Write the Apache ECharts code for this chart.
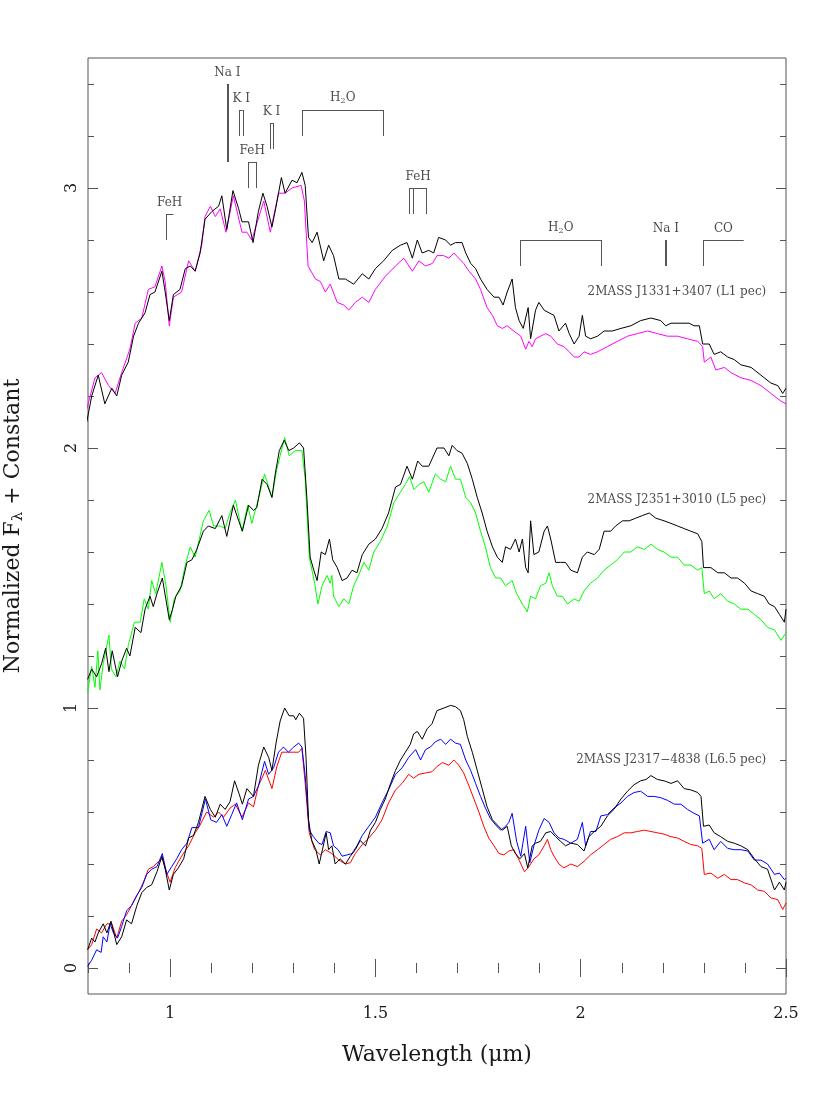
<!DOCTYPE html>
<html>
<head>
<meta charset="utf-8">
<script src="https://cdn.jsdelivr.net/npm/echarts@6.0.0/dist/echarts.min.js"></script>
<style>
  html, body { margin: 0; padding: 0; background: #fff; }
  #chart { width: 830px; height: 1106px; }
</style>
</head>
<body>
<div id="chart"></div>
<script>
// spectra: [wavelength (um), normalized flux + offset]
const j1331 = [[0.797,2.10],[0.809,2.20],[0.825,2.28],[0.841,2.17],[0.858,2.23],[0.870,2.20],[0.882,2.28],[0.898,2.33],[0.911,2.43],[0.923,2.48],[0.939,2.52],[0.951,2.59],[0.963,2.60],[0.980,2.68],[0.988,2.60],[0.998,2.49],[1.008,2.59],[1.024,2.61],[1.037,2.69],[1.049,2.70],[1.061,2.68],[1.073,2.75],[1.085,2.88],[1.102,2.91],[1.118,2.93],[1.126,2.97],[1.138,2.84],[1.153,2.99],[1.167,2.92],[1.175,2.87],[1.191,2.87],[1.202,2.79],[1.215,2.91],[1.226,2.98],[1.236,2.93],[1.248,2.85],[1.257,2.92],[1.271,3.04],[1.280,2.98],[1.297,3.03],[1.309,3.02],[1.321,3.06],[1.329,3.01],[1.337,2.81],[1.346,2.79],[1.358,2.83],[1.374,2.72],[1.386,2.78],[1.398,2.74],[1.411,2.65],[1.427,2.65],[1.447,2.63],[1.468,2.67],[1.484,2.65],[1.500,2.69],[1.520,2.72],[1.541,2.76],[1.561,2.78],[1.577,2.79],[1.590,2.73],[1.602,2.80],[1.614,2.75],[1.630,2.76],[1.642,2.75],[1.654,2.81],[1.671,2.80],[1.683,2.78],[1.695,2.79],[1.711,2.79],[1.720,2.75],[1.732,2.71],[1.744,2.69],[1.756,2.65],[1.772,2.61],[1.789,2.58],[1.801,2.58],[1.811,2.55],[1.821,2.60],[1.833,2.65],[1.841,2.54],[1.850,2.49],[1.860,2.46],[1.872,2.54],[1.878,2.42],[1.890,2.53],[1.898,2.56],[1.911,2.53],[1.923,2.52],[1.935,2.51],[1.947,2.45],[1.963,2.48],[1.972,2.44],[1.984,2.40],[1.996,2.43],[2.004,2.51],[2.012,2.43],[2.024,2.42],[2.041,2.43],[2.057,2.45],[2.077,2.45],[2.098,2.46],[2.122,2.47],[2.146,2.49],[2.171,2.50],[2.195,2.49],[2.207,2.47],[2.220,2.48],[2.244,2.48],[2.264,2.48],[2.276,2.47],[2.289,2.47],[2.297,2.40],[2.313,2.40],[2.325,2.36],[2.341,2.37],[2.358,2.35],[2.374,2.34],[2.390,2.32],[2.415,2.31],[2.439,2.28],[2.463,2.25],[2.480,2.24],[2.492,2.21],[2.500,2.23]];
const j1331Std = [[0.797,2.15],[0.817,2.27],[0.833,2.29],[0.850,2.24],[0.866,2.21],[0.882,2.29],[0.902,2.38],[0.915,2.48],[0.931,2.50],[0.947,2.61],[0.963,2.62],[0.980,2.70],[0.988,2.64],[0.998,2.47],[1.008,2.58],[1.028,2.60],[1.045,2.72],[1.061,2.68],[1.077,2.78],[1.085,2.89],[1.098,2.93],[1.110,2.89],[1.122,2.92],[1.136,2.83],[1.154,2.97],[1.175,2.83],[1.187,2.83],[1.199,2.80],[1.228,2.95],[1.244,2.83],[1.264,2.98],[1.280,2.98],[1.297,3.00],[1.319,3.01],[1.327,2.95],[1.336,2.70],[1.354,2.65],[1.366,2.64],[1.378,2.60],[1.390,2.63],[1.407,2.56],[1.423,2.55],[1.435,2.53],[1.451,2.56],[1.468,2.58],[1.484,2.56],[1.500,2.61],[1.524,2.66],[1.549,2.70],[1.569,2.73],[1.590,2.68],[1.606,2.72],[1.622,2.70],[1.639,2.71],[1.650,2.74],[1.666,2.74],[1.679,2.73],[1.691,2.75],[1.703,2.73],[1.715,2.71],[1.728,2.68],[1.744,2.65],[1.756,2.61],[1.772,2.54],[1.785,2.51],[1.797,2.47],[1.809,2.46],[1.821,2.47],[1.837,2.45],[1.854,2.43],[1.866,2.38],[1.874,2.41],[1.882,2.39],[1.890,2.42],[1.902,2.43],[1.915,2.44],[1.927,2.43],[1.943,2.40],[1.959,2.39],[1.972,2.37],[1.984,2.35],[1.996,2.35],[2.008,2.37],[2.024,2.36],[2.041,2.37],[2.065,2.39],[2.089,2.41],[2.114,2.43],[2.138,2.44],[2.163,2.45],[2.187,2.44],[2.211,2.43],[2.236,2.43],[2.260,2.42],[2.285,2.41],[2.297,2.39],[2.301,2.33],[2.317,2.35],[2.329,2.30],[2.350,2.31],[2.366,2.29],[2.390,2.27],[2.415,2.26],[2.439,2.24],[2.463,2.21],[2.488,2.18],[2.500,2.17]];

const j2351 = [[0.799,1.11],[0.809,1.15],[0.821,1.12],[0.833,1.17],[0.843,1.23],[0.851,1.14],[0.859,1.22],[0.872,1.12],[0.882,1.18],[0.894,1.23],[0.902,1.20],[0.915,1.31],[0.929,1.29],[0.939,1.38],[0.951,1.43],[0.959,1.39],[0.968,1.44],[0.981,1.50],[0.998,1.34],[1.006,1.38],[1.014,1.43],[1.028,1.47],[1.041,1.56],[1.053,1.57],[1.065,1.61],[1.081,1.68],[1.093,1.70],[1.110,1.69],[1.126,1.74],[1.138,1.66],[1.154,1.78],[1.167,1.72],[1.176,1.68],[1.191,1.78],[1.203,1.76],[1.211,1.77],[1.224,1.88],[1.236,1.86],[1.248,1.81],[1.256,1.90],[1.266,1.99],[1.278,2.03],[1.289,1.99],[1.301,2.00],[1.315,2.02],[1.325,2.00],[1.333,1.81],[1.341,1.58],[1.350,1.53],[1.358,1.49],[1.368,1.60],[1.378,1.59],[1.388,1.65],[1.396,1.57],[1.407,1.54],[1.419,1.49],[1.431,1.50],[1.443,1.53],[1.455,1.52],[1.468,1.59],[1.484,1.63],[1.500,1.65],[1.516,1.69],[1.532,1.75],[1.549,1.85],[1.561,1.86],[1.577,1.93],[1.590,1.88],[1.603,1.95],[1.614,1.93],[1.630,1.93],[1.650,2.00],[1.667,2.00],[1.679,1.97],[1.687,2.01],[1.699,1.99],[1.711,1.98],[1.724,1.94],[1.736,1.88],[1.748,1.81],[1.760,1.75],[1.772,1.68],[1.785,1.62],[1.797,1.58],[1.809,1.56],[1.817,1.62],[1.829,1.61],[1.841,1.65],[1.850,1.60],[1.858,1.65],[1.866,1.54],[1.872,1.52],[1.878,1.72],[1.886,1.59],[1.898,1.60],[1.911,1.68],[1.919,1.70],[1.927,1.65],[1.939,1.56],[1.951,1.56],[1.963,1.56],[1.976,1.53],[1.992,1.52],[2.004,1.58],[2.016,1.60],[2.033,1.59],[2.045,1.61],[2.057,1.68],[2.073,1.68],[2.085,1.70],[2.102,1.72],[2.118,1.72],[2.134,1.73],[2.150,1.74],[2.167,1.75],[2.183,1.73],[2.203,1.72],[2.220,1.71],[2.236,1.70],[2.252,1.69],[2.268,1.68],[2.285,1.67],[2.295,1.64],[2.299,1.54],[2.317,1.54],[2.334,1.52],[2.350,1.52],[2.366,1.50],[2.382,1.50],[2.399,1.48],[2.415,1.45],[2.431,1.44],[2.447,1.43],[2.459,1.40],[2.472,1.39],[2.484,1.36],[2.496,1.33],[2.500,1.38]];
const j2351Std = [[0.799,1.06],[0.809,1.16],[0.817,1.08],[0.824,1.22],[0.829,1.07],[0.837,1.17],[0.851,1.28],[0.857,1.15],[0.868,1.12],[0.878,1.18],[0.889,1.15],[0.898,1.24],[0.913,1.33],[0.927,1.33],[0.937,1.42],[0.947,1.38],[0.955,1.49],[0.965,1.44],[0.980,1.56],[0.990,1.47],[1.000,1.33],[1.010,1.42],[1.024,1.45],[1.037,1.55],[1.049,1.62],[1.061,1.58],[1.081,1.72],[1.095,1.76],[1.106,1.70],[1.122,1.70],[1.134,1.69],[1.146,1.75],[1.159,1.80],[1.175,1.68],[1.189,1.78],[1.199,1.71],[1.216,1.81],[1.230,1.90],[1.248,1.81],[1.260,1.92],[1.268,1.97],[1.279,2.04],[1.290,1.97],[1.305,1.99],[1.321,1.99],[1.329,1.88],[1.339,1.58],[1.352,1.48],[1.360,1.40],[1.370,1.47],[1.382,1.51],[1.390,1.48],[1.394,1.51],[1.398,1.43],[1.411,1.39],[1.423,1.42],[1.435,1.40],[1.447,1.47],[1.459,1.51],[1.472,1.56],[1.484,1.53],[1.496,1.60],[1.512,1.64],[1.529,1.70],[1.545,1.79],[1.561,1.83],[1.573,1.86],[1.583,1.89],[1.594,1.84],[1.606,1.86],[1.618,1.87],[1.630,1.83],[1.646,1.90],[1.659,1.88],[1.671,1.87],[1.683,1.93],[1.695,1.88],[1.707,1.88],[1.720,1.81],[1.732,1.79],[1.744,1.75],[1.756,1.68],[1.768,1.62],[1.780,1.54],[1.793,1.50],[1.805,1.50],[1.817,1.47],[1.833,1.49],[1.844,1.44],[1.858,1.40],[1.870,1.37],[1.878,1.43],[1.890,1.42],[1.902,1.47],[1.915,1.48],[1.923,1.52],[1.931,1.47],[1.943,1.43],[1.955,1.43],[1.968,1.40],[1.984,1.42],[1.996,1.41],[2.008,1.45],[2.024,1.48],[2.041,1.50],[2.057,1.53],[2.073,1.55],[2.089,1.57],[2.106,1.60],[2.122,1.60],[2.138,1.62],[2.155,1.61],[2.171,1.63],[2.187,1.61],[2.203,1.60],[2.220,1.58],[2.236,1.58],[2.252,1.55],[2.268,1.55],[2.285,1.53],[2.295,1.54],[2.301,1.44],[2.313,1.45],[2.325,1.42],[2.341,1.44],[2.358,1.41],[2.374,1.40],[2.390,1.38],[2.407,1.38],[2.423,1.36],[2.439,1.34],[2.455,1.31],[2.472,1.30],[2.488,1.26],[2.500,1.29]];

const j2317 = [[0.799,0.07],[0.809,0.115],[0.817,0.10],[0.825,0.135],[0.837,0.17],[0.846,0.135],[0.856,0.18],[0.870,0.09],[0.882,0.12],[0.894,0.185],[0.906,0.17],[0.919,0.24],[0.931,0.29],[0.943,0.31],[0.955,0.32],[0.968,0.37],[0.980,0.43],[0.988,0.38],[0.998,0.30],[1.008,0.36],[1.020,0.385],[1.033,0.42],[1.045,0.50],[1.057,0.51],[1.069,0.56],[1.085,0.66],[1.098,0.61],[1.110,0.58],[1.122,0.63],[1.134,0.61],[1.146,0.64],[1.157,0.72],[1.168,0.67],[1.176,0.63],[1.187,0.69],[1.203,0.66],[1.215,0.78],[1.228,0.85],[1.240,0.81],[1.248,0.76],[1.258,0.865],[1.268,0.95],[1.279,1.00],[1.290,0.97],[1.301,0.97],[1.306,0.955],[1.315,0.98],[1.325,0.96],[1.331,0.81],[1.337,0.57],[1.345,0.49],[1.355,0.455],[1.363,0.40],[1.371,0.455],[1.380,0.52],[1.386,0.455],[1.394,0.47],[1.402,0.40],[1.414,0.42],[1.427,0.40],[1.439,0.43],[1.451,0.455],[1.463,0.49],[1.476,0.47],[1.488,0.53],[1.500,0.56],[1.512,0.61],[1.524,0.65],[1.537,0.71],[1.549,0.76],[1.561,0.80],[1.573,0.83],[1.585,0.86],[1.593,0.90],[1.602,0.91],[1.614,0.88],[1.626,0.92],[1.638,0.94],[1.650,0.99],[1.667,1.00],[1.683,1.01],[1.695,1.005],[1.707,0.99],[1.715,0.955],[1.724,0.89],[1.736,0.83],[1.748,0.76],[1.760,0.69],[1.772,0.62],[1.785,0.57],[1.797,0.55],[1.809,0.53],[1.821,0.545],[1.831,0.47],[1.841,0.44],[1.852,0.42],[1.863,0.44],[1.871,0.385],[1.882,0.47],[1.890,0.48],[1.902,0.487],[1.915,0.52],[1.927,0.525],[1.939,0.505],[1.951,0.487],[1.963,0.47],[1.976,0.48],[1.992,0.475],[2.008,0.45],[2.020,0.505],[2.033,0.525],[2.049,0.545],[2.065,0.585],[2.081,0.61],[2.098,0.65],[2.114,0.68],[2.130,0.705],[2.146,0.72],[2.159,0.725],[2.171,0.74],[2.187,0.725],[2.203,0.72],[2.220,0.71],[2.236,0.72],[2.252,0.69],[2.268,0.685],[2.285,0.675],[2.293,0.66],[2.299,0.545],[2.313,0.55],[2.325,0.52],[2.341,0.505],[2.358,0.487],[2.374,0.48],[2.390,0.47],[2.407,0.455],[2.423,0.42],[2.439,0.39],[2.455,0.38],[2.472,0.30],[2.484,0.33],[2.496,0.30],[2.500,0.33]];
const j2317StdBlue = [[0.799,0.006],[0.809,0.03],[0.821,0.07],[0.832,0.06],[0.837,0.12],[0.846,0.10],[0.854,0.17],[0.862,0.135],[0.872,0.115],[0.882,0.16],[0.894,0.22],[0.906,0.24],[0.919,0.28],[0.931,0.31],[0.943,0.36],[0.955,0.38],[0.968,0.39],[0.981,0.44],[0.992,0.36],[1.004,0.39],[1.016,0.42],[1.028,0.455],[1.041,0.48],[1.053,0.54],[1.069,0.54],[1.086,0.65],[1.099,0.57],[1.113,0.56],[1.126,0.59],[1.138,0.545],[1.150,0.59],[1.162,0.635],[1.176,0.57],[1.191,0.65],[1.203,0.66],[1.215,0.70],[1.230,0.795],[1.240,0.745],[1.252,0.77],[1.264,0.83],[1.276,0.85],[1.288,0.83],[1.301,0.85],[1.313,0.865],[1.321,0.85],[1.329,0.74],[1.339,0.53],[1.349,0.505],[1.362,0.48],[1.370,0.475],[1.380,0.525],[1.390,0.52],[1.398,0.47],[1.409,0.455],[1.419,0.43],[1.431,0.435],[1.443,0.44],[1.455,0.47],[1.468,0.51],[1.484,0.545],[1.500,0.58],[1.516,0.635],[1.532,0.685],[1.549,0.745],[1.565,0.77],[1.581,0.81],[1.598,0.84],[1.610,0.80],[1.622,0.84],[1.634,0.85],[1.646,0.87],[1.659,0.88],[1.671,0.86],[1.683,0.88],[1.695,0.865],[1.707,0.86],[1.720,0.80],[1.732,0.76],[1.744,0.71],[1.756,0.66],[1.768,0.615],[1.780,0.575],[1.793,0.55],[1.805,0.53],[1.817,0.545],[1.825,0.56],[1.833,0.595],[1.844,0.487],[1.854,0.43],[1.866,0.545],[1.876,0.405],[1.886,0.47],[1.898,0.53],[1.911,0.575],[1.923,0.56],[1.935,0.52],[1.947,0.50],[1.959,0.495],[1.976,0.48],[1.992,0.495],[2.004,0.56],[2.012,0.47],[2.024,0.525],[2.037,0.525],[2.049,0.585],[2.065,0.59],[2.081,0.615],[2.098,0.635],[2.114,0.66],[2.130,0.675],[2.146,0.68],[2.163,0.66],[2.179,0.66],[2.195,0.655],[2.211,0.645],[2.228,0.63],[2.244,0.63],[2.260,0.61],[2.276,0.595],[2.289,0.585],[2.297,0.48],[2.313,0.495],[2.325,0.455],[2.341,0.487],[2.358,0.46],[2.374,0.455],[2.390,0.455],[2.407,0.45],[2.423,0.415],[2.439,0.415],[2.455,0.40],[2.472,0.36],[2.484,0.365],[2.496,0.34],[2.500,0.345]];
const j2317StdRed = [[0.799,0.07],[0.809,0.09],[0.821,0.15],[0.833,0.135],[0.846,0.17],[0.858,0.17],[0.870,0.115],[0.882,0.18],[0.894,0.205],[0.906,0.24],[0.923,0.29],[0.935,0.33],[0.947,0.38],[0.959,0.39],[0.972,0.41],[0.981,0.42],[0.992,0.365],[1.000,0.33],[1.012,0.385],[1.028,0.43],[1.045,0.47],[1.061,0.52],[1.073,0.55],[1.089,0.60],[1.106,0.58],[1.118,0.60],[1.130,0.58],[1.146,0.615],[1.159,0.63],[1.175,0.58],[1.191,0.635],[1.203,0.62],[1.215,0.70],[1.232,0.76],[1.248,0.69],[1.260,0.775],[1.272,0.83],[1.285,0.83],[1.301,0.83],[1.313,0.83],[1.321,0.845],[1.329,0.71],[1.339,0.52],[1.352,0.455],[1.366,0.435],[1.378,0.455],[1.394,0.44],[1.411,0.415],[1.427,0.40],[1.439,0.405],[1.451,0.44],[1.468,0.475],[1.484,0.50],[1.500,0.53],[1.516,0.57],[1.532,0.635],[1.549,0.685],[1.565,0.71],[1.581,0.745],[1.593,0.73],[1.606,0.745],[1.622,0.75],[1.638,0.755],[1.650,0.775],[1.663,0.79],[1.679,0.78],[1.691,0.80],[1.703,0.78],[1.715,0.75],[1.728,0.70],[1.740,0.65],[1.752,0.60],[1.764,0.545],[1.776,0.50],[1.789,0.47],[1.801,0.44],[1.813,0.435],[1.825,0.45],[1.837,0.455],[1.850,0.415],[1.863,0.37],[1.874,0.39],[1.886,0.42],[1.898,0.435],[1.911,0.47],[1.919,0.495],[1.927,0.455],[1.935,0.43],[1.947,0.40],[1.959,0.385],[1.976,0.40],[1.992,0.39],[2.008,0.41],[2.024,0.435],[2.041,0.455],[2.057,0.475],[2.073,0.495],[2.089,0.505],[2.106,0.52],[2.122,0.52],[2.138,0.525],[2.155,0.53],[2.171,0.525],[2.187,0.52],[2.203,0.515],[2.220,0.505],[2.236,0.50],[2.252,0.487],[2.268,0.475],[2.285,0.47],[2.295,0.46],[2.301,0.36],[2.317,0.365],[2.334,0.345],[2.350,0.36],[2.366,0.34],[2.382,0.34],[2.399,0.327],[2.415,0.32],[2.431,0.30],[2.447,0.295],[2.463,0.27],[2.480,0.263],[2.492,0.225],[2.500,0.25]];

// object names and where their labels end (right edge)
const objectNames = ['2MASS J1331+3407 (L1 pec)', '2MASS J2351+3010 (L5 pec)', '2MASS J2317\u22124838 (L6.5 pec)'];
const objectLabelAt = [[2.452, 2.60], [2.452, 1.80], [2.452, 0.80]];

// spectral features: name, wavelengths of the marker lines, horizontal span, [bottom, top]
const featureNames = ['FeH', 'Na I', 'K I', 'FeH', 'K I', 'H{sub|2}O', 'FeH', 'H{sub|2}O', 'Na I', 'CO'];
const featureLines = [[0.990], [1.138, 1.141], [1.169, 1.177], [1.190, 1.210], [1.243, 1.251], [1.321, 1.520], [1.583, 1.591, 1.625], [1.852, 2.051], [2.206, 2.209], [2.298]];
const featureSpans = [[0.990, 1.008], null, null, null, null, null, null, null, null, [2.298, 2.397]];
const featureLevels = [[2.80, 2.90], [3.10, 3.40], [3.20, 3.30], [3.00, 3.10], [3.15, 3.25], [3.20, 3.30], [2.90, 3.00], [2.70, 2.80], [2.70, 2.80], [2.70, 2.80]];

// ticks
const xMinorTicks = [0.8, 0.9, 1.0, 1.1, 1.2, 1.3, 1.4, 1.5, 1.6, 1.7, 1.8, 1.9, 2.0, 2.1, 2.2, 2.3, 2.4, 2.5];
const xMajorTicks = [1, 1.5, 2, 2.5];
const yMinorTicks = [0, 0.2, 0.4, 0.6, 0.8, 1.0, 1.2, 1.4, 1.6, 1.8, 2.0, 2.2, 2.4, 2.6, 2.8, 3.0, 3.2, 3.4];
const yMajorTicks = [0, 1, 2, 3];

const FONT = 'DejaVu Serif';
const FRAME = '#555';
const TEXT = '#1a1a1a';

const chart = echarts.init(document.getElementById('chart'));

function xAx(pos, ticks, len, withLabels) {
    return {
        type: 'value', min: 0.8, max: 2.5, position: pos,
        axisLine: { show: false }, splitLine: { show: false },
        axisTick: { show: true, inside: true, length: len, customValues: ticks, lineStyle: { color: FRAME, width: 1 } },
        axisLabel: withLabels ? {
            show: true, customValues: xMajorTicks, margin: 12, fontSize: 16, fontFamily: FONT, color: TEXT,
            formatter: v => String(v)
        } : { show: false },
        name: withLabels ? 'Wavelength (\u03bcm)' : '',
        nameLocation: 'middle', nameGap: 50,
        nameTextStyle: { fontSize: 22, fontFamily: FONT, color: TEXT }
    };
}

function yAx(pos, ticks, len, withLabels) {
    return {
        type: 'value', min: -0.1, max: 3.5, position: pos,
        axisLine: { show: false }, splitLine: { show: false },
        axisTick: { show: true, inside: true, length: len, customValues: ticks, lineStyle: { color: FRAME, width: 1 } },
        axisLabel: withLabels ? {
            show: true, customValues: yMajorTicks, rotate: 90, margin: 8, fontSize: 16, fontFamily: FONT, color: TEXT,
            formatter: v => String(v)
        } : { show: false },
        name: withLabels ? 'Normalized F{sub|\u03bb} + Constant' : '',
        nameLocation: 'middle', nameGap: 62, nameRotate: 90,
        nameTextStyle: {
            fontSize: 22, fontFamily: FONT, color: TEXT,
            rich: { sub: { fontSize: 15, fontFamily: FONT, color: TEXT, padding: [10, 0, 0, 0] } }
        }
    };
}

// feature marker segments
const featureSegments = [];
const featureTextData = [];
featureNames.forEach((name, i) => {
    const xs = featureLines[i];
    const [bottom, top] = featureLevels[i];
    const span = featureSpans[i] || [Math.min(...xs), Math.max(...xs)];
    if (span[1] > span[0]) featureSegments.push({ coords: [[span[0], top], [span[1], top]] });
    xs.forEach(x => featureSegments.push({ coords: [[x, bottom], [x, top]] }));
    featureTextData.push({ name: name, value: [(span[0] + span[1]) / 2, top] });
});

function spectrum(name, data, color, z) {
    return {
        name: name, type: 'line', data: data, xAxisIndex: 0, yAxisIndex: 0,
        showSymbol: false, symbol: 'none', silent: true, z: z,
        lineStyle: { color: color, width: 1 }
    };
}

const option = {
    animation: false,
    backgroundColor: '#fff',
    grid: {
        left: 88, right: 44, top: 58, bottom: 112,
        outerBoundsMode: 'none', containLabel: false,
        show: true, borderColor: FRAME, borderWidth: 1, backgroundColor: 'transparent'
    },
    xAxis: [
        xAx('bottom', xMinorTicks, 5, true),
        xAx('bottom', xMajorTicks, 9, false),
        xAx('top', xMinorTicks, 5, false),
        xAx('top', xMajorTicks, 9, false)
    ],
    yAxis: [
        yAx('left', yMinorTicks, 6, true),
        yAx('left', yMajorTicks, 10, false),
        yAx('right', yMinorTicks, 6, false),
        yAx('right', yMajorTicks, 10, false)
    ],
    series: [
        spectrum('J1331 comparison', j1331Std, '#ff00ff', 2),
        spectrum('J1331', j1331, '#000000', 3),
        spectrum('J2351 comparison', j2351Std, '#00ff00', 2),
        spectrum('J2351', j2351, '#000000', 3),
        spectrum('J2317 comparison red', j2317StdRed, '#ff0000', 2),
        spectrum('J2317 comparison blue', j2317StdBlue, '#0000ff', 2),
        spectrum('J2317', j2317, '#000000', 3),
        {
            name: 'features', type: 'lines', coordinateSystem: 'cartesian2d',
            xAxisIndex: 0, yAxisIndex: 0, silent: true, z: 4,
            lineStyle: { color: '#555', width: 1, opacity: 1 },
            data: featureSegments
        },
        {
            name: 'feature names', type: 'scatter', xAxisIndex: 0, yAxisIndex: 0,
            symbolSize: 0, silent: true, z: 5,
            data: featureTextData,
            label: {
                show: true, position: 'top', distance: 5,
                formatter: p => p.name,
                fontSize: 12, fontFamily: FONT, color: TEXT,
                rich: { sub: { fontSize: 8, fontFamily: FONT, color: TEXT, padding: [6, 0, 0, 0] } }
            }
        },
        {
            name: 'object names', type: 'scatter', xAxisIndex: 0, yAxisIndex: 0,
            symbolSize: 0, silent: true, z: 5,
            data: objectNames.map((n, i) => ({ name: n, value: objectLabelAt[i] })),
            label: {
                show: true, position: 'left', distance: 0,
                formatter: p => p.name,
                fontSize: 12, fontFamily: FONT, color: TEXT
            }
        }
    ]
};

chart.setOption(option);
window.addEventListener('resize', () => chart.resize());
</script>
</body>
</html>
